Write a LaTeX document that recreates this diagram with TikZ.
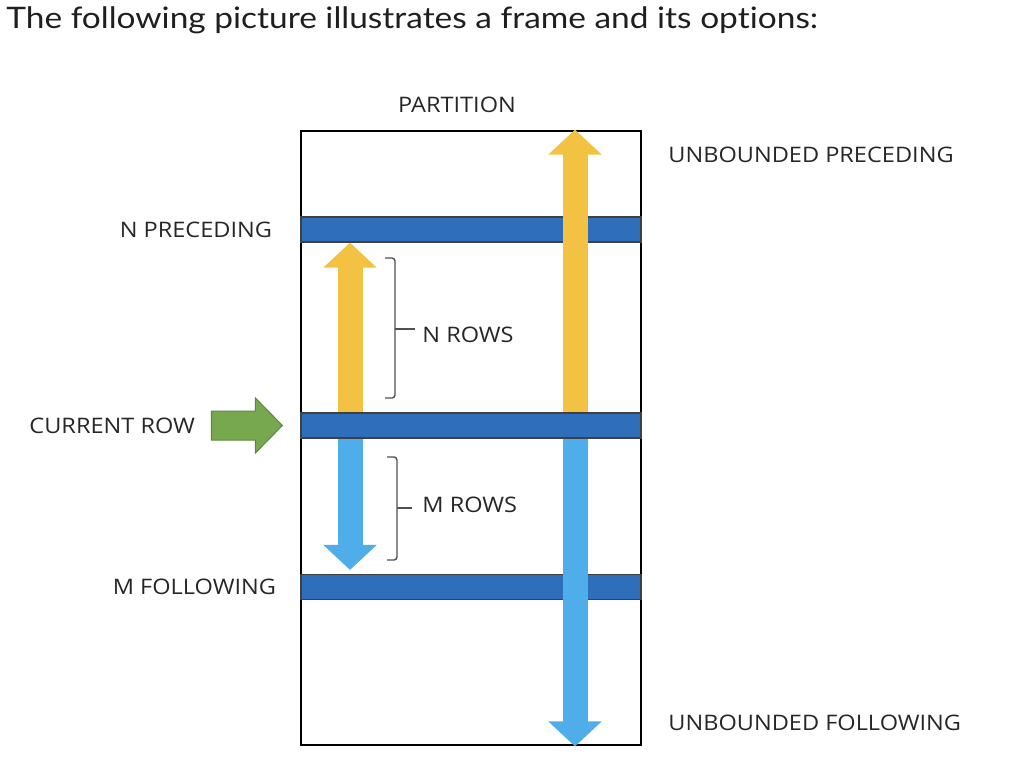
\documentclass[tikz,border=0pt]{standalone}
\usepackage{fontspec}
\setmainfont{Open Sans}
\newfontfamily\labelfont[FakeStretch=1.1]{Open Sans}
\newfontfamily\titlefont[FakeStretch=1.13,Ligatures={NoCommon,NoRare}]{Lato}
\usepackage{tikz}
\usetikzlibrary{positioning,arrows.meta,calc}

\definecolor{barblue}{HTML}{2F6EBA}
\definecolor{uparrow}{HTML}{F4C242}
\definecolor{downarrow}{HTML}{4FADEA}
\definecolor{curgreen}{HTML}{77A84F}
\definecolor{bracegray}{HTML}{505050}

\begin{document}
\begin{tikzpicture}[
      x=0.5pt, y=-0.5pt,
      partbox/.style={draw=black, line width=1.4pt, minimum width=170pt, minimum height=307pt, inner sep=0pt},
      rowbar/.style={draw=black!75, fill=barblue, line width=0.6pt, minimum width=170pt, minimum height=12.5pt, inner sep=0pt},
      rowlabel/.style={font=\labelfont\fontsize{10.7}{12}\selectfont, text=black!85, inner sep=0pt},
      titletext/.style={font=\titlefont\fontsize{14.8}{17}\selectfont, text=black!88, inner sep=0pt},
      framearrow/.style={line width=12.5pt, -{Triangle[length=12.5pt,width=26pt]}},
      pointer/.style={draw=curgreen!80!black, fill=curgreen, line width=0.5pt},
      rowbrace/.style={draw=bracegray, line width=0.7pt, rounded corners=1.5pt},
    ]
    \useasboundingbox (0,0) rectangle (1012,778);

    % Title
    \node[titletext, anchor=west] (title) at (6,20) {The following picture illustrates a frame and its options:};

    % Partition and rows
    \node[partbox] (part) at (471,438) {};
    \node[rowbar] (npre) at (471,229.5) {};
    \node[rowbar] (cur) at (471,425.5) {};
    \node[rowbar] (mfol) at (471,587) {};

    % Columns of the arrows
    \coordinate (colA) at (350,0);
    \coordinate (colB) at (575,0);

    % Frame arrows
    \draw[framearrow, uparrow] (cur.north -| colB) -- (part.north -| colB);
    \draw[framearrow, uparrow] (cur.north -| colA) -- (npre.south -| colA);
    \draw[framearrow, downarrow] (cur.south -| colA) -- ($(mfol.north -| colA)+(0,-4)$);
    \draw[framearrow, downarrow] (cur.south -| colB) -- (part.south -| colB);

    % Current row pointer
    \coordinate (curtip) at ($(cur.west)+(-18,0)$);
    \draw[pointer] (curtip) -- ++(-27,-27.5) -- ++(0,13) -- ++(-44,0) -- ++(0,29)
      -- ++(44,0) -- ++(0,13) -- cycle;
    \coordinate (curtail) at ($(curtip)+(-71,0)$);

    % Braces
    \draw[rowbrace] (385,258) -- (395,258) -- (395,398) -- (385,398);
    \draw[rowbrace] (395,329) -- (415,329);
    \draw[rowbrace] (387,457) -- (397,457) -- (397,560) -- (387,560);
    \draw[rowbrace] (397,508) -- (412,508);

    % Labels
    \node[rowlabel] (partlabel) at (457,105) {PARTITION};
    \node[rowlabel, anchor=west] (ubpre) at (668,155) {UNBOUNDED PRECEDING};
    \node[rowlabel, anchor=west] (ubfol) at (668,723) {UNBOUNDED FOLLOWING};
    \node[rowlabel, left=14pt of npre] (npretext) {N PRECEDING};
    \node[rowlabel, left=8pt of curtail] (curtext) {CURRENT ROW};
    \node[rowlabel, left=12pt of mfol] (mfoltext) {M FOLLOWING};
    \node[rowlabel, anchor=west] (nrows) at (422,335) {N ROWS};
    \node[rowlabel, anchor=west] (mrows) at (422,505) {M ROWS};
\end{tikzpicture}
\end{document}
